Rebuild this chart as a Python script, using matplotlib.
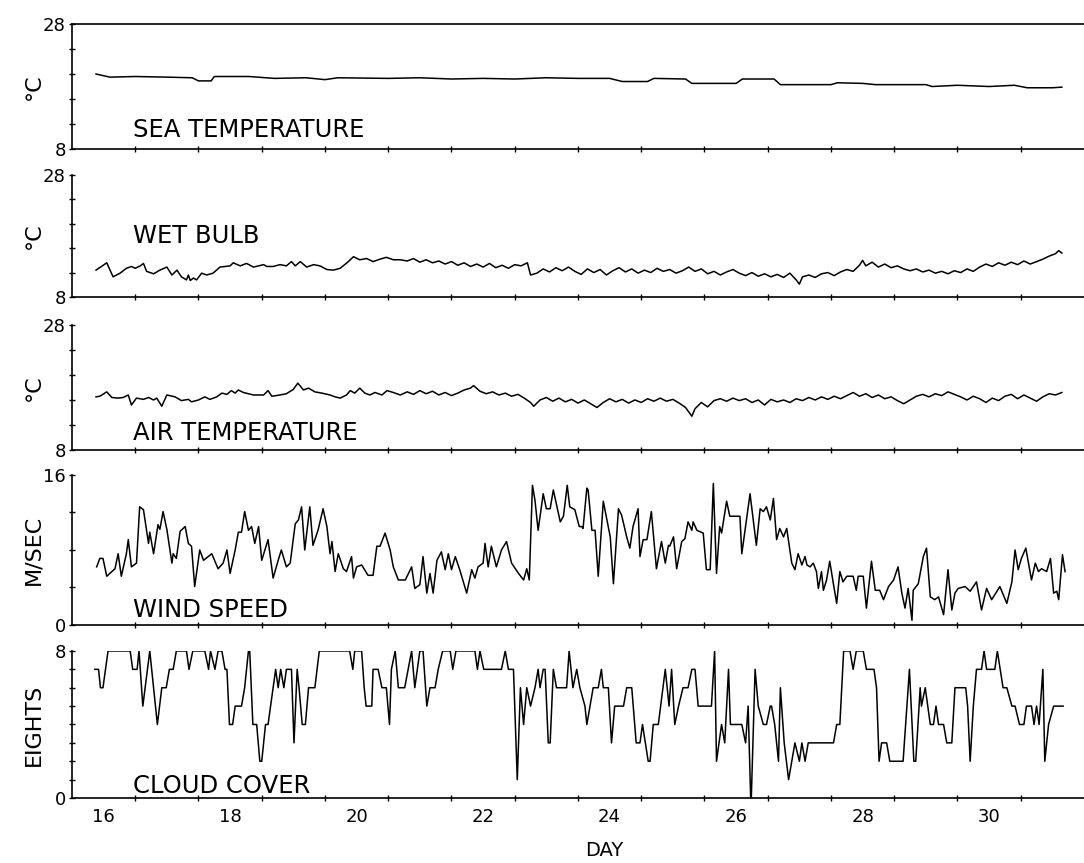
import matplotlib
matplotlib.use("Agg")
import matplotlib.pyplot as plt
from matplotlib.ticker import FixedLocator, NullFormatter

# ---- data (day of month, value) ----
sea_day = [15.88, 16.10, 16.50, 17.00, 17.40, 17.50, 17.70, 17.75, 18.30, 18.70,
           19.20, 19.50, 19.70, 20.50, 21.00, 21.50, 22.00, 22.50, 23.00, 23.50,
           24.00, 24.20, 24.60, 24.70, 25.20, 25.30, 26.00, 26.10, 26.60, 26.70,
           27.50, 27.60, 28.00, 28.20, 29.00, 29.10, 29.50, 30.00, 30.40, 30.60,
           31.00, 31.15]
sea_temp = [20.0, 19.5, 19.6, 19.5, 19.4, 18.9, 18.9, 19.6, 19.6, 19.3,
            19.4, 19.1, 19.4, 19.3, 19.4, 19.2, 19.3, 19.2, 19.4, 19.3,
            19.3, 18.8, 18.8, 19.3, 19.2, 18.5, 18.5, 19.2, 19.2, 18.3,
            18.3, 18.6, 18.5, 18.3, 18.3, 18.0, 18.2, 18.0, 18.2, 17.8,
            17.8, 17.9]

wet_day = [15.88, 16.05, 16.15, 16.26, 16.36, 16.44, 16.50, 16.58, 16.63, 16.68,
           16.79, 16.89, 17.00, 17.08, 17.16, 17.23, 17.31, 17.34, 17.37, 17.42,
           17.47, 17.55, 17.63, 17.73, 17.84, 18.00, 18.05, 18.16, 18.26, 18.37,
           18.53, 18.58, 18.68, 18.79, 18.89, 18.97, 19.03, 19.11, 19.21, 19.32,
           19.42, 19.53, 19.63, 19.74, 19.87, 19.95, 20.05, 20.16, 20.26, 20.37,
           20.47, 20.58, 20.69, 20.80, 20.90, 21.00, 21.10, 21.20, 21.30, 21.40,
           21.50, 21.60, 21.70, 21.80, 21.90, 22.00, 22.10, 22.20, 22.30, 22.40,
           22.50, 22.60, 22.70, 22.75, 22.85, 22.95, 23.05, 23.15, 23.25, 23.35,
           23.45, 23.55, 23.65, 23.75, 23.85, 23.95, 24.05, 24.15, 24.25, 24.35,
           24.45, 24.55, 24.65, 24.75, 24.85, 24.95, 25.05, 25.15, 25.25, 25.35,
           25.45, 25.55, 25.65, 25.75, 25.85, 25.95, 26.05, 26.15, 26.25, 26.35,
           26.45, 26.55, 26.65, 26.75, 26.85, 26.95, 27.00, 27.05, 27.15, 27.25,
           27.35, 27.45, 27.55, 27.65, 27.75, 27.85, 27.95, 28.00, 28.05, 28.15,
           28.25, 28.35, 28.45, 28.55, 28.65, 28.75, 28.85, 28.95, 29.05, 29.15,
           29.25, 29.35, 29.45, 29.55, 29.65, 29.75, 29.85, 29.95, 30.05, 30.15,
           30.25, 30.35, 30.45, 30.55, 30.65, 30.75, 30.85, 30.95, 31.05, 31.10,
           31.15]
wet_bulb = [12.4, 13.6, 11.3, 11.9, 12.7, 13.0, 12.7, 13.1, 13.5, 12.2,
            11.8, 12.4, 12.9, 11.6, 12.4, 11.3, 10.8, 11.6, 10.7, 11.1,
            10.8, 11.9, 11.6, 11.9, 12.9, 13.1, 13.6, 13.1, 13.5, 12.9,
            13.3, 13.0, 13.0, 13.3, 13.1, 13.8, 13.1, 13.8, 12.9, 13.3,
            13.1, 12.5, 12.4, 12.7, 13.8, 14.6, 14.1, 14.3, 13.8, 14.2,
            14.5, 14.1, 14.1, 13.9, 14.3, 13.7, 14.1, 13.6, 13.9, 13.4,
            13.8, 13.2, 13.6, 13.0, 13.4, 12.9, 13.5, 12.8, 13.2, 12.7,
            13.3, 13.1, 13.6, 11.6, 11.9, 12.6, 12.1, 12.8, 12.3, 12.9,
            12.2, 11.7, 12.6, 12.0, 12.5, 11.6, 12.3, 12.8, 12.1, 12.6,
            11.9, 12.4, 12.0, 12.7, 12.2, 12.5, 11.9, 12.3, 12.9, 12.2,
            12.6, 11.8, 12.2, 11.6, 12.1, 12.5, 11.9, 11.5, 12.0, 11.4,
            11.8, 11.3, 11.7, 11.2, 11.9, 10.8, 10.1, 11.3, 11.6, 11.2,
            11.8, 12.0, 11.5, 12.1, 12.5, 12.2, 13.2, 14.0, 13.1, 13.7,
            12.9, 13.4, 12.8, 13.1, 12.6, 12.3, 12.6, 12.1, 12.4, 11.9,
            12.2, 11.8, 12.3, 12.0, 12.6, 12.2, 12.9, 13.4, 13.0, 13.6,
            13.2, 13.7, 13.3, 13.9, 13.4, 13.8, 14.2, 14.7, 15.1, 15.6,
            15.2]

air_day = [15.88, 15.94, 16.05, 16.13, 16.23, 16.31, 16.39, 16.44, 16.52, 16.63,
           16.71, 16.79, 16.84, 16.92, 17.00, 17.13, 17.23, 17.34, 17.39, 17.50,
           17.60, 17.68, 17.79, 17.87, 17.95, 18.02, 18.08, 18.13, 18.21, 18.37,
           18.53, 18.60, 18.66, 18.79, 18.89, 19.00, 19.07, 19.16, 19.24, 19.34,
           19.45, 19.58, 19.66, 19.74, 19.84, 19.90, 19.97, 20.05, 20.13, 20.21,
           20.29, 20.40, 20.48, 20.58, 20.69, 20.80, 20.90, 21.00, 21.10, 21.20,
           21.30, 21.40, 21.50, 21.60, 21.70, 21.80, 21.85, 21.95, 22.05, 22.15,
           22.25, 22.35, 22.45, 22.55, 22.65, 22.75, 22.80, 22.90, 23.00, 23.10,
           23.20, 23.30, 23.40, 23.50, 23.60, 23.70, 23.80, 23.90, 24.00, 24.10,
           24.20, 24.30, 24.40, 24.50, 24.60, 24.70, 24.80, 24.90, 25.00, 25.10,
           25.20, 25.30, 25.35, 25.45, 25.55, 25.65, 25.75, 25.85, 25.95, 26.05,
           26.15, 26.25, 26.35, 26.45, 26.55, 26.65, 26.75, 26.85, 26.95, 27.05,
           27.15, 27.25, 27.35, 27.45, 27.55, 27.65, 27.75, 27.85, 27.95, 28.05,
           28.15, 28.25, 28.35, 28.45, 28.55, 28.65, 28.75, 28.85, 28.95, 29.05,
           29.15, 29.25, 29.35, 29.45, 29.55, 29.65, 29.75, 29.85, 29.95, 30.05,
           30.15, 30.25, 30.35, 30.45, 30.55, 30.65, 30.75, 30.85, 30.95, 31.05,
           31.15]
air_temp = [16.5, 16.6, 17.3, 16.4, 16.3, 16.4, 16.8, 15.2, 16.3, 16.1,
            16.4, 16.0, 16.3, 15.0, 16.8, 16.5, 15.9, 16.1, 15.7, 16.0,
            16.5, 16.1, 16.5, 17.1, 16.9, 17.5, 17.1, 17.6, 17.2, 16.8,
            16.8, 17.5, 16.6, 16.8, 17.0, 17.7, 18.7, 17.6, 17.9, 17.3,
            17.1, 16.8, 16.5, 16.3, 16.8, 17.5, 17.1, 17.9, 17.1, 16.8,
            17.2, 16.8, 17.5, 17.2, 16.8, 17.3, 16.9, 17.5, 17.0, 17.4,
            16.8, 17.2, 16.7, 17.1, 17.6, 17.9, 18.3, 17.4, 17.0, 17.3,
            16.8, 17.1, 16.6, 16.9, 16.3, 15.6, 15.0, 16.0, 16.4, 15.8,
            16.3, 15.7, 16.1, 15.5, 16.0, 15.4, 14.8, 15.6, 16.2, 15.7,
            16.1, 15.5, 16.0, 15.6, 16.2, 15.8, 16.3, 15.8, 16.1, 15.5,
            14.8, 13.4, 14.6, 15.6, 14.9, 15.9, 16.2, 15.8, 16.3, 15.9,
            16.2, 15.6, 16.0, 15.2, 16.1, 15.7, 16.0, 15.6, 16.2, 15.9,
            16.4, 16.0, 16.5, 16.1, 16.6, 16.2, 16.7, 17.2, 16.6, 17.0,
            16.4, 16.8, 16.2, 16.5, 15.9, 15.4, 16.0, 16.6, 16.9, 16.5,
            17.0, 16.7, 17.3, 16.9, 16.5, 16.0, 16.6, 16.2, 15.6, 16.3,
            15.9, 16.6, 16.9, 16.2, 16.8, 16.3, 15.8, 16.5, 17.0, 16.8,
            17.2]

wind_day = [15.89, 15.94, 15.99, 16.05, 16.13, 16.18, 16.23, 16.28, 16.36, 16.39,
            16.44, 16.52, 16.57, 16.63, 16.71, 16.73, 16.79, 16.86, 16.89, 16.94,
            17.00, 17.08, 17.10, 17.15, 17.21, 17.29, 17.34, 17.39, 17.44, 17.52,
            17.58, 17.71, 17.81, 17.89, 17.95, 18.00, 18.08, 18.13, 18.18, 18.23,
            18.29, 18.34, 18.39, 18.45, 18.50, 18.60, 18.68, 18.76, 18.81, 18.89,
            18.95, 19.03, 19.08, 19.13, 19.18, 19.26, 19.31, 19.39, 19.47, 19.53,
            19.58, 19.61, 19.66, 19.71, 19.79, 19.84, 19.92, 19.95, 20.00, 20.08,
            20.18, 20.26, 20.32, 20.37, 20.45, 20.53, 20.58, 20.66, 20.77, 20.87,
            20.92, 21.00, 21.05, 21.11, 21.16, 21.21, 21.27, 21.34, 21.40, 21.45,
            21.50, 21.56, 21.63, 21.74, 21.82, 21.87, 21.92, 22.00, 22.03, 22.08,
            22.13, 22.21, 22.29, 22.37, 22.45, 22.56, 22.64, 22.69, 22.73, 22.78,
            22.82, 22.87, 22.95, 23.00, 23.06, 23.11, 23.22, 23.27, 23.33, 23.37,
            23.45, 23.52, 23.56, 23.58, 23.64, 23.66, 23.72, 23.77, 23.82, 23.90,
            24.01, 24.06, 24.14, 24.19, 24.27, 24.32, 24.37, 24.45, 24.48, 24.53,
            24.59, 24.66, 24.74, 24.82, 24.88, 24.93, 24.95, 25.01, 25.06, 25.14,
            25.19, 25.24, 25.30, 25.32, 25.38, 25.48, 25.53, 25.59, 25.64, 25.69,
            25.74, 25.77, 25.85, 25.90, 26.06, 26.09, 26.22, 26.32, 26.38, 26.43,
            26.48, 26.54, 26.59, 26.64, 26.69, 26.75, 26.80, 26.88, 26.93, 26.98,
            27.04, 27.09, 27.12, 27.17, 27.22, 27.27, 27.30, 27.35, 27.38, 27.43,
            27.48, 27.54, 27.59, 27.64, 27.69, 27.75, 27.80, 27.85, 27.90, 27.93,
            28.01, 28.06, 28.14, 28.20, 28.27, 28.33, 28.41, 28.49, 28.56, 28.62,
            28.67, 28.72, 28.78, 28.80, 28.88, 28.96, 29.01, 29.07, 29.14, 29.20,
            29.28, 29.35, 29.41, 29.46, 29.51, 29.62, 29.70, 29.80, 29.88, 29.96,
            30.04, 30.17, 30.28, 30.36, 30.41, 30.46, 30.51, 30.58, 30.67, 30.73,
            30.78, 30.83, 30.91, 30.97, 31.02, 31.07, 31.10, 31.16, 31.20]
wind_speed = [6.2, 7.1, 7.1, 5.2, 5.7, 6.0, 7.6, 5.2, 7.6, 9.1,
              6.2, 6.6, 12.6, 12.3, 8.7, 9.9, 7.6, 10.7, 10.2, 12.1,
              10.2, 6.6, 7.6, 7.1, 10.0, 10.5, 8.7, 8.4, 4.1, 8.0,
              6.9, 7.6, 6.0, 6.6, 8.0, 5.5, 8.0, 9.9, 9.9, 12.1,
              10.1, 10.5, 8.7, 10.5, 6.9, 9.1, 5.0, 6.9, 8.0, 6.2,
              6.6, 10.8, 11.2, 12.6, 8.0, 12.6, 8.5, 10.1, 12.4, 10.5,
              7.6, 8.9, 5.7, 7.6, 6.0, 5.7, 7.3, 5.0, 6.2, 6.4,
              5.3, 5.3, 8.4, 8.4, 9.8, 8.0, 6.2, 4.8, 4.8, 6.2,
              3.9, 4.3, 7.3, 3.4, 5.5, 3.4, 6.9, 7.8, 5.9, 7.6,
              5.9, 7.3, 5.9, 3.4, 5.9, 5.0, 6.2, 6.6, 8.7, 6.2,
              8.4, 6.2, 8.0, 8.9, 6.6, 5.5, 4.8, 6.0, 4.8, 14.9,
              13.3, 10.1, 14.0, 12.4, 12.4, 14.4, 11.0, 11.6, 14.9, 12.6,
              12.3, 10.5, 10.5, 10.3, 14.6, 14.4, 10.1, 10.1, 5.2, 13.2,
              9.4, 4.4, 12.4, 11.7, 9.4, 8.2, 10.5, 12.4, 7.3, 9.1,
              9.1, 12.1, 6.0, 8.9, 6.6, 8.5, 8.4, 9.4, 6.0, 8.9,
              9.2, 11.0, 10.1, 11.0, 10.1, 9.8, 5.9, 5.9, 15.1, 5.5,
              10.5, 9.8, 13.2, 11.6, 11.6, 7.6, 14.0, 8.5, 12.4, 12.1,
              12.6, 11.2, 13.5, 9.1, 10.3, 9.4, 10.3, 6.6, 5.9, 7.6,
              6.4, 7.3, 6.4, 6.2, 6.6, 5.7, 3.9, 5.7, 3.7, 4.8,
              6.8, 4.3, 2.3, 5.7, 4.6, 5.2, 5.2, 5.2, 3.7, 5.2,
              5.2, 1.8, 6.8, 3.7, 3.7, 2.7, 4.1, 4.8, 6.2, 3.4,
              1.8, 3.9, 0.5, 3.7, 4.4, 7.3, 8.2, 3.0, 2.7, 3.0,
              1.1, 5.9, 1.6, 3.4, 3.9, 4.1, 3.6, 4.6, 1.6, 3.9,
              2.7, 4.1, 2.3, 4.6, 8.0, 5.9, 7.1, 8.2, 4.8, 6.6,
              5.7, 6.0, 5.7, 7.1, 3.4, 3.6, 2.7, 7.5, 5.7]

cloud_day = [15.86, 15.92, 15.95, 15.99, 16.07, 16.42, 16.46, 16.53, 16.56, 16.62,
             16.73, 16.85, 16.92, 16.99, 17.04, 17.10, 17.15, 17.31, 17.35, 17.41,
             17.60, 17.66, 17.69, 17.76, 17.81, 17.87, 17.92, 17.95, 17.99, 18.04,
             18.08, 18.18, 18.23, 18.29, 18.31, 18.36, 18.42, 18.47, 18.50, 18.56,
             18.60, 18.68, 18.72, 18.76, 18.80, 18.85, 18.89, 18.97, 19.01, 19.06,
             19.09, 19.14, 19.19, 19.24, 19.34, 19.41, 19.89, 19.94, 19.97, 20.08,
             20.12, 20.15, 20.24, 20.26, 20.34, 20.40, 20.47, 20.52, 20.55, 20.61,
             20.66, 20.76, 20.87, 20.92, 21.00, 21.05, 21.11, 21.16, 21.24, 21.29,
             21.36, 21.48, 21.52, 21.57, 21.87, 21.91, 21.95, 22.01, 22.29, 22.35,
             22.40, 22.48, 22.54, 22.59, 22.64, 22.69, 22.75, 22.82, 22.87, 22.90,
             22.95, 22.98, 23.03, 23.06, 23.11, 23.16, 23.32, 23.36, 23.42, 23.48,
             23.53, 23.61, 23.64, 23.74, 23.82, 23.87, 23.90, 23.98, 24.03, 24.08,
             24.22, 24.27, 24.35, 24.42, 24.48, 24.52, 24.61, 24.64, 24.69, 24.77,
             24.88, 24.94, 24.98, 25.03, 25.09, 25.16, 25.24, 25.30, 25.35, 25.40,
             25.61, 25.66, 25.69, 25.77, 25.82, 25.88, 25.91, 26.09, 26.15, 26.19,
             26.23, 26.24, 26.30, 26.35, 26.43, 26.48, 26.54, 26.56, 26.61, 26.67,
             26.70, 26.76, 26.83, 26.93, 27.00, 27.04, 27.09, 27.14, 27.54, 27.59,
             27.64, 27.70, 27.80, 27.85, 27.90, 28.01, 28.06, 28.18, 28.22, 28.26,
             28.30, 28.38, 28.43, 28.64, 28.74, 28.81, 28.84, 28.91, 28.93, 28.99,
             29.07, 29.12, 29.16, 29.20, 29.28, 29.33, 29.41, 29.46, 29.63, 29.66,
             29.70, 29.75, 29.80, 29.88, 29.92, 29.96, 30.09, 30.13, 30.22, 30.28,
             30.36, 30.41, 30.48, 30.55, 30.59, 30.67, 30.71, 30.75, 30.79, 30.85,
             30.88, 30.94, 31.02, 31.17]
cloud_cover = [7, 7, 6, 6, 8, 8, 7, 7, 8, 5,
               8, 4, 6, 6, 7, 7, 8, 8, 7, 8,
               8, 7, 8, 7, 8, 8, 7, 7, 4, 4,
               5, 5, 6, 8, 8, 4, 4, 2, 2, 4,
               4, 6, 7, 6, 7, 6, 7, 7, 3, 7,
               6, 4, 4, 6, 6, 8, 8, 7, 8, 8,
               6, 5, 5, 7, 7, 6, 6, 4, 7, 8,
               6, 6, 8, 6, 8, 8, 5, 6, 6, 7,
               8, 8, 7, 8, 8, 7, 8, 7, 7, 8,
               7, 7, 1, 6, 4, 6, 5, 6, 7, 6,
               7, 7, 3, 3, 7, 6, 6, 8, 6, 7,
               6, 5, 4, 6, 6, 7, 6, 6, 3, 5,
               5, 6, 6, 3, 3, 4, 2, 2, 4, 4,
               7, 5, 7, 4, 5, 6, 6, 7, 7, 5,
               5, 8, 2, 4, 3, 7, 4, 4, 3, 5,
               0, 0, 7, 5, 4, 4, 5, 5, 4, 2,
               6, 3, 1, 3, 2, 3, 2, 3, 3, 4,
               4, 8, 8, 7, 8, 8, 7, 7, 6, 2,
               3, 3, 2, 2, 7, 2, 2, 6, 5, 6,
               4, 4, 5, 4, 4, 3, 3, 6, 6, 5,
               2, 5, 7, 7, 8, 7, 7, 8, 6, 6,
               5, 5, 4, 4, 5, 5, 4, 5, 4, 7,
               2, 4, 5, 5]

day_labels = [16, 18, 20, 22, 24, 26, 28, 30]

# ---- layout ----
fig = plt.figure(figsize=(10.84, 8.63), dpi=100)
left, width = 0.0664, 0.9336
panels = [
    # (bottom, height, data x, data y, ylim, tick step, y label, title, title y)
    (0.8273, 0.1449, sea_day, sea_temp, (8, 28), 4, "°C", "SEA TEMPERATURE", 0.10),
    (0.6559, 0.1413, wet_day, wet_bulb, (8, 28), 4, "°C", "WET BULB", 0.44),
    (0.4786, 0.1448, air_day, air_temp, (8, 28), 4, "°C", "AIR TEMPERATURE", 0.08),
    (0.2758, 0.1738, wind_day, wind_speed, (0, 16), 4, "M/SEC", "WIND SPEED", 0.055),
    (0.0753, 0.1704, cloud_day, cloud_cover, (0, 8), 1, "EIGHTS", "CLOUD COVER", 0.035),
]

for n, (b, h, xs, ys, ylim, step, ylab, title, ty) in enumerate(panels):
    ax = fig.add_axes([left, b, width, h])
    ax.plot(xs, ys, color="black", lw=1.1)
    ax.set_xlim(15.5, 31.5)
    ax.set_ylim(*ylim)

    ax.spines["right"].set_visible(False)
    ax.spines["top"].set_visible(n == 0)
    for s in ["left", "bottom", "top"]:
        ax.spines[s].set_linewidth(1.2)

    # y axis: labels only at ends, small crosses every step
    ax.yaxis.set_major_locator(FixedLocator(list(ylim)))
    ax.yaxis.set_minor_locator(FixedLocator(list(range(ylim[0], ylim[1] + 1, step))))
    ax.tick_params(axis="y", which="both", direction="inout", length=5, width=1,
                   labelsize=13, pad=2)
    ax.set_ylabel(ylab, fontsize=16)
    ax.yaxis.set_label_coords(-0.028, 0.5)

    # x axis: ticks at half days, labels every two days
    ax.xaxis.set_major_locator(FixedLocator(day_labels))
    ax.xaxis.set_minor_locator(FixedLocator([d + 0.5 for d in range(16, 31)]))
    ax.tick_params(axis="x", which="major", length=0, labelsize=13, pad=7)
    ax.tick_params(axis="x", which="minor", direction="inout", length=5, width=1)
    if n < 4:
        ax.xaxis.set_major_formatter(NullFormatter())

    ax.text(0.060, ty, title, transform=ax.transAxes, fontsize=17.5,
            ha="left", va="baseline")

fig.text(0.557, 0.015, "DAY", ha="center", va="center", fontsize=14)

fig.savefig("out.png", dpi=100)
